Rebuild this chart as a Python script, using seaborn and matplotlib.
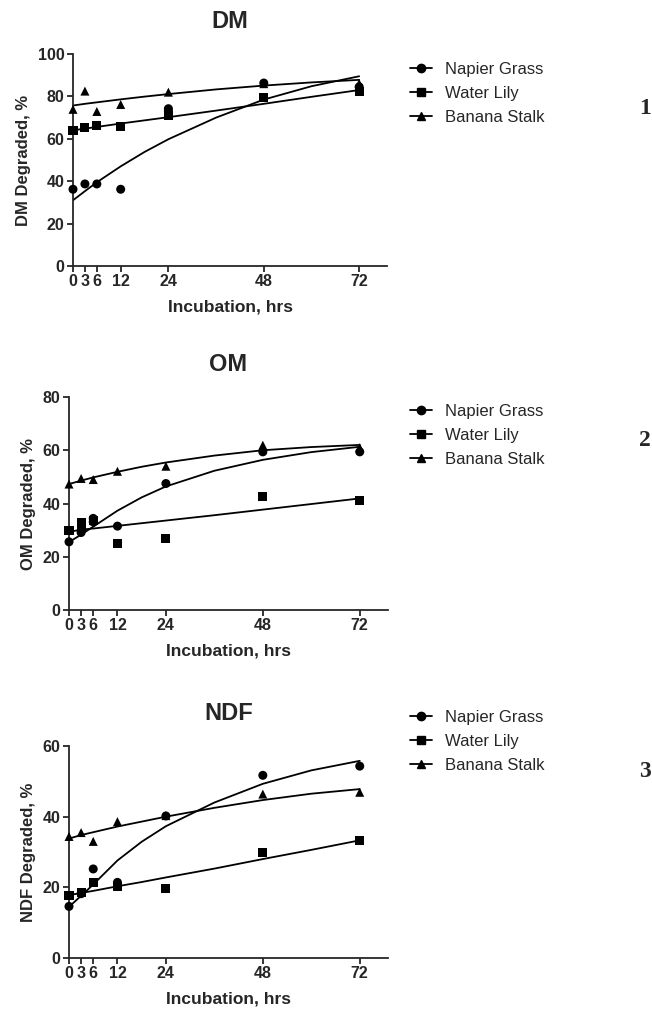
import matplotlib
matplotlib.use("Agg")
import matplotlib.pyplot as plt
from matplotlib.lines import Line2D
import pandas as pd
import seaborn as sns

materials = ["Napier Grass", "Water Lily", "Banana Stalk"]
marker_map = {"Napier Grass": "o", "Water Lily": "s", "Banana Stalk": "^"}
xticks = [0, 3, 6, 12, 24, 48, 72]

dm_napier_t = [0, 3, 6, 12, 24, 24, 48, 72]
dm_napier_y = [36.2, 38.7, 38.7, 36.2, 74.2, 73.0, 86.3, 84.5]
dm_lily_t = [0, 3, 6, 12, 24, 48, 72]
dm_lily_y = [64.1, 65.2, 66.3, 65.7, 70.9, 79.4, 82.5]
dm_banana_t = [0, 3, 6, 12, 24, 48, 72]
dm_banana_y = [73.9, 82.5, 72.9, 76.2, 82.0, 86.0, 86.1]

om_napier_t = [0, 3, 6, 6, 12, 24, 48, 72]
om_napier_y = [25.6, 29.1, 34.4, 33.1, 31.5, 47.5, 59.4, 59.4]
om_lily_t = [0, 3, 3, 6, 12, 24, 48, 72]
om_lily_y = [29.8, 32.8, 31.3, 33.8, 24.8, 26.9, 42.5, 41.0]
om_banana_t = [0, 3, 6, 12, 24, 48, 72]
om_banana_y = [47.3, 49.4, 49.0, 52.1, 54.0, 61.9, 61.0]

ndf_napier_t = [0, 3, 6, 12, 24, 48, 72]
ndf_napier_y = [14.6, 18.2, 25.2, 21.4, 40.2, 51.7, 54.3]
ndf_lily_t = [0, 3, 6, 12, 24, 48, 72]
ndf_lily_y = [17.6, 18.4, 21.5, 20.1, 19.6, 29.8, 33.2]
ndf_banana_t = [0, 3, 6, 12, 24, 48, 72]
ndf_banana_y = [34.4, 35.5, 33.0, 38.6, 40.3, 46.4, 46.9]

# fitted curves at these hours
fit_t = [0, 3, 6, 12, 18, 24, 36, 48, 60, 72]
dm_napier_fit = [31.0, 35.3, 39.5, 47.0, 53.8, 59.8, 70.0, 78.5, 84.8, 89.5]
dm_lily_fit = [64.0, 64.8, 65.6, 67.2, 68.7, 70.2, 73.3, 76.5, 79.8, 83.0]
dm_banana_fit = [75.7, 76.5, 77.2, 78.6, 79.9, 81.1, 83.3, 85.1, 86.6, 87.8]
om_napier_fit = [25.5, 28.3, 31.3, 37.3, 42.3, 46.4, 52.3, 56.4, 59.3, 61.3]
om_lily_fit = [29.3, 30.2, 30.6, 31.6, 32.6, 33.6, 35.6, 37.7, 39.8, 41.9]
om_banana_fit = [47.3, 48.6, 49.8, 51.9, 53.8, 55.4, 58.0, 60.0, 61.2, 62.0]
ndf_napier_fit = [14.5, 17.6, 20.8, 27.6, 32.9, 37.3, 44.0, 49.3, 53.1, 55.8]
ndf_lily_fit = [17.8, 18.4, 19.0, 20.3, 21.5, 22.8, 25.3, 28.0, 30.6, 33.3]
ndf_banana_fit = [33.8, 34.8, 35.6, 37.2, 38.6, 40.0, 42.5, 44.7, 46.5, 47.8]

panels = [
    ("DM", 100, [(dm_napier_t, dm_napier_y, dm_napier_fit),
                 (dm_lily_t, dm_lily_y, dm_lily_fit),
                 (dm_banana_t, dm_banana_y, dm_banana_fit)]),
    ("OM", 80, [(om_napier_t, om_napier_y, om_napier_fit),
                (om_lily_t, om_lily_y, om_lily_fit),
                (om_banana_t, om_banana_y, om_banana_fit)]),
    ("NDF", 60, [(ndf_napier_t, ndf_napier_y, ndf_napier_fit),
                 (ndf_lily_t, ndf_lily_y, ndf_lily_fit),
                 (ndf_banana_t, ndf_banana_y, ndf_banana_fit)]),
]

sns.set_style("ticks")
plt.rcParams["font.family"] = ["Liberation Sans", "DejaVu Sans"]
plt.rcParams["font.weight"] = "bold"

W, H = 652, 1013
fig = plt.figure(figsize=(W / 100, H / 100), dpi=100)

# axes boxes in pixels: left, top, right, bottom
boxes = [(73, 54, 387, 266), (69, 397, 388, 610), (69, 746, 388, 958)]
legend_tops = [62, 404, 710]
num_y = [108, 441, 771]

for i, (name, ytop, series) in enumerate(panels):
    l, t, r, b = boxes[i]
    ax = fig.add_axes([l / W, 1 - b / H, (r - l) / W, (b - t) / H])

    rows = []
    for mat, (ts, ys, fit) in zip(materials, series):
        for x, y in zip(ts, ys):
            rows.append({"material": mat, "hours": x, "value": y})
    pts = pd.DataFrame(rows)

    for mat, (ts, ys, fit) in zip(materials, series):
        sns.lineplot(x=fit_t, y=fit, ax=ax, color="black", lw=1.3,
                     estimator=None, sort=False, legend=False)

    sns.scatterplot(data=pts, x="hours", y="value", style="material",
                    markers=marker_map, color="black", s=42, linewidth=0,
                    legend=False, ax=ax, clip_on=False, zorder=3)

    ax.set_xlim(0, 79)
    ax.set_ylim(0, ytop)
    ax.set_xticks(xticks)
    ax.set_yticks(range(0, ytop + 1, 20))
    sns.despine(ax=ax)
    for s in ["left", "bottom"]:
        ax.spines[s].set_linewidth(1.3)
    ax.tick_params(width=1.3, length=4, labelsize=11.5, pad=2)
    for lab in ax.get_xticklabels() + ax.get_yticklabels():
        lab.set_fontweight("bold")
    ax.set_title(name, fontsize=17, fontweight="bold", pad=19)
    ax.set_ylabel(f"{name} Degraded, %", fontsize=12, fontweight="bold", labelpad=5)
    ax.set_xlabel("Incubation, hrs", fontsize=12.5, fontweight="bold", labelpad=7)

    handles = [Line2D([0], [0], color="black", lw=1.3, marker=marker_map[m],
                      markersize=6) for m in materials]
    fig.legend(handles, materials, loc="upper left",
               bbox_to_anchor=(410 / W, 1 - legend_tops[i] / H),
               frameon=False, borderpad=0, borderaxespad=0,
               handlelength=1.3, handletextpad=0.8, labelspacing=0.55,
               prop={"size": 12, "weight": "normal"})

    fig.text(645 / W, 1 - num_y[i] / H, str(i + 1), ha="center", va="center",
             fontsize=17, fontweight="bold", family=["Liberation Serif", "DejaVu Serif"])

fig.savefig("out.png", dpi=100, facecolor="white")
